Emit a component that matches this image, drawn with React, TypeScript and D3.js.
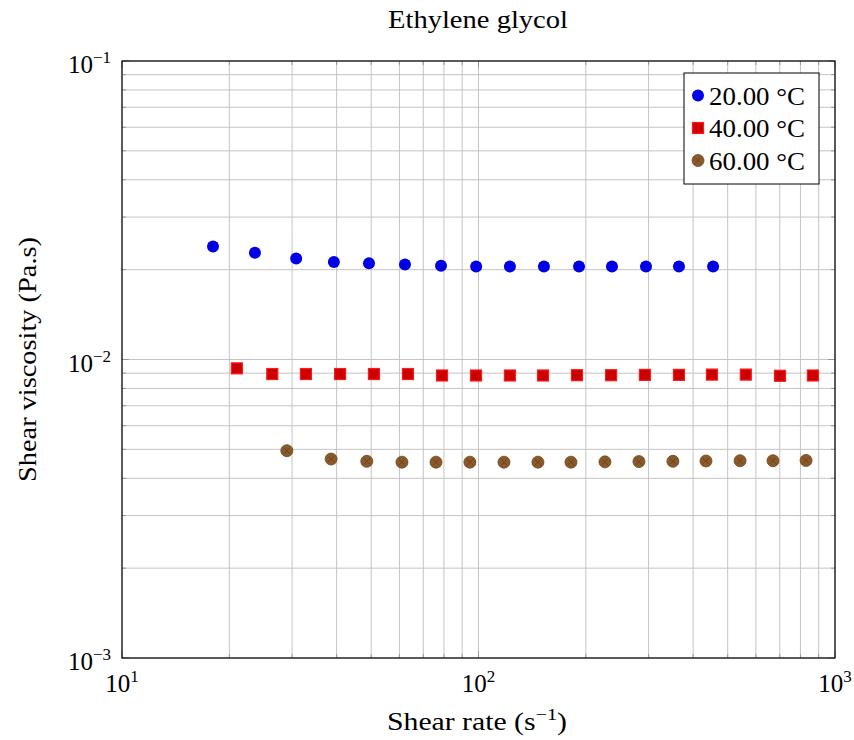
import React from "react";
import * as d3 from "d3";

const title = "Ethylene glycol";
const seriesNames = ["20.00 °C", "40.00 °C", "60.00 °C"];

const x20 = [18.0, 23.6, 30.8, 39.3, 49.3, 62.2, 78.5, 98.5, 122.5, 152.6, 191.4, 236.8, 295, 365, 455];
const y20 = [0.0239, 0.0228, 0.0218, 0.0212, 0.0210, 0.0208, 0.0206, 0.0205, 0.0205, 0.0205, 0.0205, 0.0205, 0.0205, 0.0205, 0.0205];

const x40 = [21.0, 26.4, 32.8, 40.9, 50.9, 63.4, 79.0, 98.4, 122.5, 151.7, 188.9, 235.5, 293, 365, 451.6, 562, 701, 867];
const y40 = [0.00934, 0.00894, 0.00894, 0.00894, 0.00894, 0.00894, 0.00884, 0.00884, 0.00884, 0.00884, 0.00886, 0.00886, 0.00888, 0.00888, 0.0089, 0.0089, 0.00882, 0.00884];

const x60 = [29.0, 38.6, 48.6, 61.0, 76.0, 94.6, 117.9, 146.8, 181.7, 226.3, 281.9, 351, 434.6, 541.6, 670, 829.6];
const y60 = [0.00495, 0.00464, 0.00456, 0.00453, 0.00453, 0.00453, 0.00453, 0.00453, 0.00453, 0.00454, 0.00455, 0.00456, 0.00457, 0.00458, 0.00458, 0.00459];

const xTickExps = [1, 2, 3];
const yTickExps = [-3, -2, -1];

const W = 854, H = 740;
const L = 122, R = 835, T = 61, B = 658;
const FONT = "'Liberation Serif', 'DejaVu Serif', serif";
const FS = 25;
const SUP = 17;

export default function App() {
  const x = d3.scaleLog().domain([10, 1000]).range([L, R]);
  const y = d3.scaleLog().domain([0.001, 0.1]).range([B, T]);

  const minorX: number[] = [];
  for (let e = 1; e < 3; e++) for (let m = 2; m <= 9; m++) minorX.push(m * Math.pow(10, e));
  const minorY: number[] = [];
  for (let e = -3; e < -1; e++) for (let m = 2; m <= 9; m++) minorY.push(m * Math.pow(10, e));
  const majorX = xTickExps.map((e) => Math.pow(10, e));
  const majorY = yTickExps.map((e) => Math.pow(10, e));

  const gridColor = "#c4c4c4";
  const tickColor = "#999";

  const circle = (cx: number, cy: number, fill: string, key: string, pattern?: boolean) => (
    <g key={key}>
      <circle cx={cx} cy={cy} r={6} fill={fill} stroke={pattern ? "#6b4420" : "none"} strokeWidth={pattern ? 0.8 : 0} />
      {pattern && (
        <g stroke="#5e3a16" strokeWidth={0.9} opacity={0.7}>
          <line x1={cx - 3} y1={cy - 3} x2={cx + 3} y2={cy + 3} />
          <line x1={cx - 3} y1={cy + 3} x2={cx + 3} y2={cy - 3} />
        </g>
      )}
    </g>
  );
  const square = (cx: number, cy: number, key: string) => (
    <rect key={key} x={cx - 5.5} y={cy - 5.5} width={11} height={11} fill="#cc0000" stroke="#ff1a1a" strokeWidth={1.2} />
  );

  return (
    <svg width={W} height={H} style={{ display: "block", position: "absolute", left: 0, top: 0 }} fontFamily={FONT}>
      <rect width={W} height={H} fill="white" />
      <g stroke={gridColor} strokeWidth={1}>
        {minorX.concat(majorX).map((v, i) => (
          <line key={"gx" + i} x1={x(v)} x2={x(v)} y1={T} y2={B} />
        ))}
        {minorY.concat(majorY).map((v, i) => (
          <line key={"gy" + i} x1={L} x2={R} y1={y(v)} y2={y(v)} />
        ))}
      </g>
      <g stroke={tickColor} strokeWidth={1}>
        {minorX.map((v, i) => (
          <g key={"tx" + i}>
            <line x1={x(v)} x2={x(v)} y1={B} y2={B - 4} />
            <line x1={x(v)} x2={x(v)} y1={T} y2={T + 4} />
          </g>
        ))}
        {minorY.map((v, i) => (
          <g key={"ty" + i}>
            <line x1={L} x2={L + 4} y1={y(v)} y2={y(v)} />
            <line x1={R} x2={R - 4} y1={y(v)} y2={y(v)} />
          </g>
        ))}
        {majorX.map((v, i) => (
          <g key={"Tx" + i}>
            <line x1={x(v)} x2={x(v)} y1={B} y2={B - 7} />
            <line x1={x(v)} x2={x(v)} y1={T} y2={T + 7} />
          </g>
        ))}
        {majorY.map((v, i) => (
          <g key={"Ty" + i}>
            <line x1={L} x2={L + 7} y1={y(v)} y2={y(v)} />
            <line x1={R} x2={R - 7} y1={y(v)} y2={y(v)} />
          </g>
        ))}
      </g>
      <rect x={L} y={T} width={R - L} height={B - T} fill="none" stroke="#000" strokeWidth={1.2} />
      <g>
        {x20.map((v, i) => circle(x(v), y(y20[i]), "#0000e6", "a" + i))}
        {x40.map((v, i) => square(x(v), y(y40[i]), "b" + i))}
        {x60.map((v, i) => circle(x(v), y(y60[i]), "#8a5a2b", "c" + i, true))}
      </g>
      <g fontSize={FS} fill="#000">
        {xTickExps.map((e, i) => (
          <text key={"xl" + i} x={x(Math.pow(10, e))} y={692} textAnchor="middle">
            10<tspan dy={-10} fontSize={SUP}>{e}</tspan>
          </text>
        ))}
        {yTickExps.map((e, i) => (
          <text key={"yl" + i} x={111} y={y(Math.pow(10, e)) + 12} textAnchor="end">
            10<tspan dy={-10} fontSize={SUP}>{"\u2212" + Math.abs(e)}</tspan>
          </text>
        ))}
      </g>
      <text x={478} y={28} textAnchor="middle" fontSize={FS} textLength={180} lengthAdjust="spacingAndGlyphs">{title}</text>
      <text x={477} y={730} textAnchor="middle" fontSize={FS} textLength={180} lengthAdjust="spacingAndGlyphs">
        Shear rate (s<tspan dy={-10} fontSize={SUP}>{"\u22121"}</tspan><tspan dy={10}>)</tspan>
      </text>
      <text transform={`translate(36, ${(T + B) / 2}) rotate(-90)`} textAnchor="middle" fontSize={FS} textLength={245} lengthAdjust="spacingAndGlyphs">
        Shear viscosity (Pa.s)
      </text>
      <g>
        <rect x={684} y={73} width={135} height={111} fill="white" stroke="#000" strokeWidth={1} />
        {seriesNames.map((name, i) => {
          const cy = 95.5 + i * 32.5;
          const mx = 698;
          return (
            <g key={"lg" + i}>
              {i === 0 && circle(mx, cy, "#0000e6", "l0")}
              {i === 1 && square(mx, cy, "l1")}
              {i === 2 && circle(mx, cy, "#8a5a2b", "l2", true)}
              <text x={709} y={cy + 9} fontSize={FS} textLength={96} lengthAdjust="spacingAndGlyphs">{name}</text>
            </g>
          );
        })}
      </g>
    </svg>
  );
}
